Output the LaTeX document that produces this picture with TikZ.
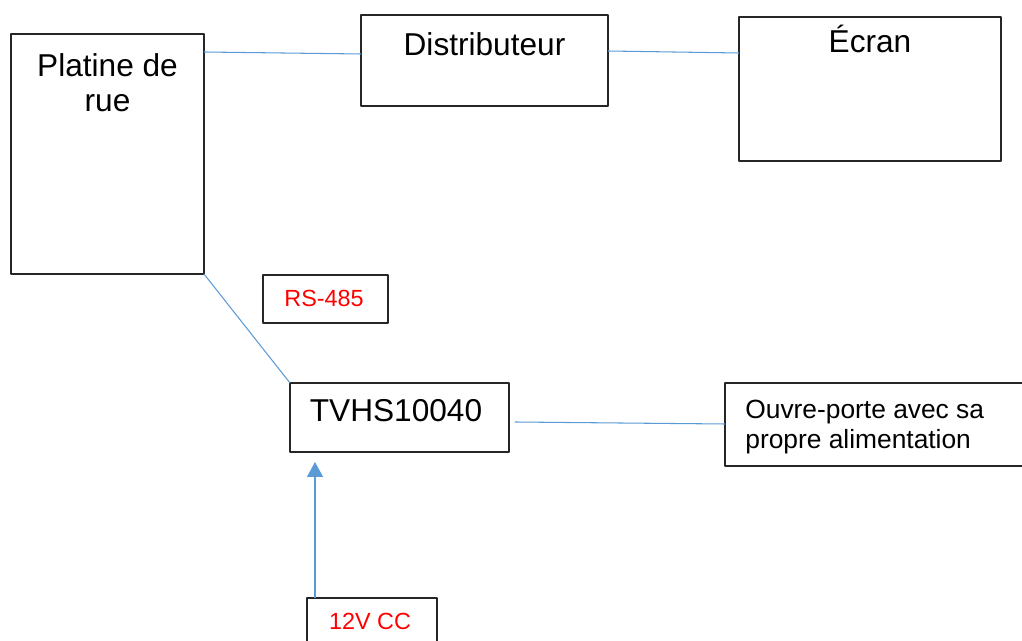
\documentclass[tikz,border=0pt]{standalone}
\usepackage{fontspec}
\setmainfont{Liberation Sans}
\usetikzlibrary{arrows.meta,calc}
\begin{document}
\begin{tikzpicture}[x=0.02cm, y=-0.02cm,
    box/.style={draw=black!85, line width=0.7pt, rectangle, inner sep=0pt, outer sep=0pt, anchor=north west},
    wire/.style={draw={rgb,255:red,91;green,155;blue,213}, line width=0.6pt},
    big/.style={font=\fontsize{18}{19.9}\selectfont, inner sep=0pt},
    tag/.style={font=\fontsize{13.3}{15}\selectfont, text=red, inner sep=0pt, anchor=base},
    line join=round]
      \useasboundingbox (0,0) rectangle (1022,641);
      \clip (0,0) rectangle (1022,641);

      \node[box, minimum width=3.86cm, minimum height=4.80cm] (platine) at (11,34) {};
      \node[box, minimum width=4.94cm, minimum height=1.82cm] (distrib) at (361,15) {};
      \node[box, minimum width=5.24cm, minimum height=2.88cm] (ecran) at (739,17) {};
      \node[box, minimum width=2.50cm, minimum height=0.96cm] (rs) at (263,275) {};
      \node[box, minimum width=4.38cm, minimum height=1.38cm] (tvhs) at (290,383) {};
      \node[box, minimum width=6.40cm, minimum height=1.66cm] (ouvre) at (725,383) {};
      \node[box, minimum width=2.60cm, minimum height=1.60cm] (alim) at (307,598) {};

      \node[big, anchor=north, align=center] (platine-txt) at (107.5,53) {Platine de\\rue};
      \node[big, anchor=base] (distrib-txt) at (484.5,56) {Distributeur};
      \node[big, anchor=base] (ecran-txt) at (870,53) {Écran};
      \node[big, anchor=base] (tvhs-txt) at (396,422) {TVHS10040};
      \node[font=\fontsize{15}{16.8}\selectfont, inner sep=0pt, anchor=north west, align=left] (ouvre-txt) at (745,400) {Ouvre-porte avec sa\\propre alimentation};
      \node[tag] (rs-txt) at (324,307) {RS-485};
      \node[tag] (alim-txt) at (370,630) {12V CC};

      \coordinate (arrow-tip) at ($(tvhs.south west)+(25,10)$);

      \draw[wire] ($(platine.north east)+(0,18)$) -- ($(distrib.north west)+(0,39)$);
      \draw[wire] ($(distrib.north east)+(0,36)$) -- ($(ecran.north west)+(0,36)$);
      \draw[wire] (platine.south east) -- (tvhs.north west);
      \draw[wire] ($(tvhs.north east)+(6,39)$) -- ($(ouvre.north west)+(0,41)$);
      \draw[wire, -{Triangle[length=0.3cm, width=0.32cm]}] ($(alim.north west)+(8,0)$) -- (arrow-tip);
    \end{tikzpicture}
\end{document}
